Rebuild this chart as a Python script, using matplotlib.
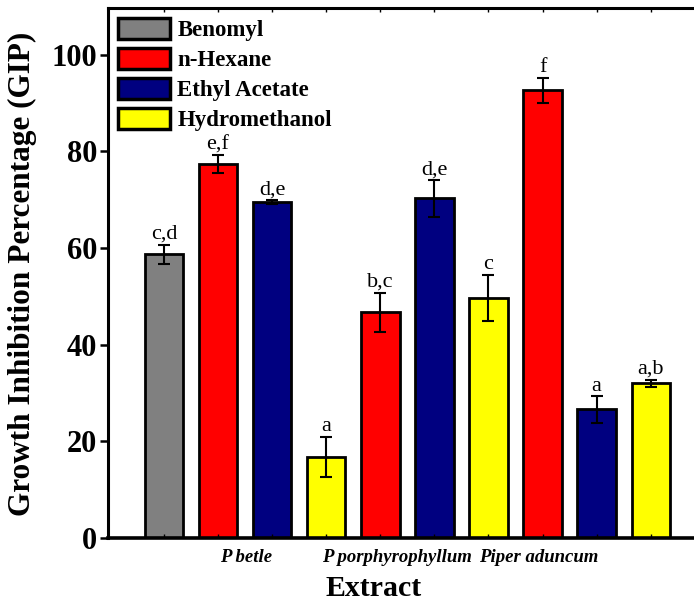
import matplotlib
matplotlib.use("Agg")
import matplotlib.pyplot as plt
import numpy as np

plt.rcParams['font.family'] = ['Liberation Serif', 'DejaVu Serif']

# ---- data ----
categories = ["P betle", "P porphyrophyllum", "Piper aduncum"]
series_names = ["Benomyl", "n-Hexane", "Ethyl Acetate", "Hydromethanol"]
benomyl_val = [58.7]
benomyl_err = [2.0]
benomyl_lab = ["c,d"]
hexane_val = [77.4, 46.7, 92.7]
hexane_err = [1.9, 4.1, 2.6]
hexane_lab = ["e,f", "b,c", "f"]
ea_val = [69.6, 70.3, 26.6]
ea_err = [0.4, 3.8, 2.7]
ea_lab = ["d,e", "d,e", "a"]
hm_val = [16.8, 49.7, 32.0]
hm_err = [4.2, 4.8, 0.8]
hm_lab = ["a", "c", "a,b"]
colors = ["#808080", "#FF0000", "#000080", "#FFFF00"]

# ---- layout ----
fig = plt.figure(figsize=(6.94, 6.07), dpi=100)
ax = fig.add_axes([0.1556, 0.1137, 0.8444, 0.8731])

width = 0.71
ncat = len(categories)
pos_ben = np.array([0.0])
pos_series = [1 + 3 * np.arange(ncat) + j for j in range(3)]

bar_kw = dict(width=width, edgecolor="black", linewidth=2.0,
              error_kw=dict(ecolor="black", elinewidth=1.5, capsize=4.5, capthick=1.5))

all_sets = [(pos_ben, benomyl_val, benomyl_err, benomyl_lab)] + \
    [(pos_series[0], hexane_val, hexane_err, hexane_lab),
     (pos_series[1], ea_val, ea_err, ea_lab),
     (pos_series[2], hm_val, hm_err, hm_lab)]

for (pos, val, err, lab), col, name in zip(all_sets, colors, series_names):
    ax.bar(pos, val, yerr=err, color=col, label=name, **bar_kw)
    for x, v, e, t in zip(pos, val, err, lab):
        ax.annotate(t, (x, v + e), xytext=(0, 0.5), textcoords="offset points",
                    ha="center", va="bottom", fontsize=16)

ax.set_xlim(-1.035, 9.8)
ax.set_ylim(0, 109.7)

# y axis
ax.set_yticks(np.arange(0, 101, 20))
ax.tick_params(axis="y", direction="out", length=6, width=1.8, labelsize=22, pad=2)
for lbl in ax.get_yticklabels():
    lbl.set_fontweight("bold")

# x axis: category labels
label_pos = [1.52, 4.30, 6.93]
ax.set_xticks(label_pos)
ax.set_xticklabels(categories, fontsize=13.5, fontweight="bold", fontstyle="italic")
ax.tick_params(axis="x", which="major", length=0, pad=8)
allpos = np.concatenate([pos_ben] + pos_series)
ax.set_xticks(allpos, minor=True)
ax.tick_params(axis="x", which="minor", direction="in", length=3, width=1.0,
               top=True, bottom=True)

for s in ["left", "top"]:
    ax.spines[s].set_linewidth(2.2)
ax.spines["bottom"].set_linewidth(2.6)
ax.spines["right"].set_visible(False)

fig.text(0.539, 0.030, "Extract", ha="center", va="center", fontsize=21.5, fontweight="bold")
fig.text(0.032, 0.549, "Growth Inhibition Percentage (GIP)", ha="center", va="center",
         rotation=90, fontsize=22.5, fontweight="bold")

leg = ax.legend(loc="upper left", frameon=False, fontsize=16.5, handlelength=2.27,
                handleheight=1.0, handletextpad=0.3, labelspacing=0.3,
                borderaxespad=0.0, borderpad=0.45)
for t in leg.get_texts():
    t.set_fontweight("bold")
for h in leg.legend_handles:
    h.set_linewidth(2.5)

fig.savefig("out.png", dpi=100)
